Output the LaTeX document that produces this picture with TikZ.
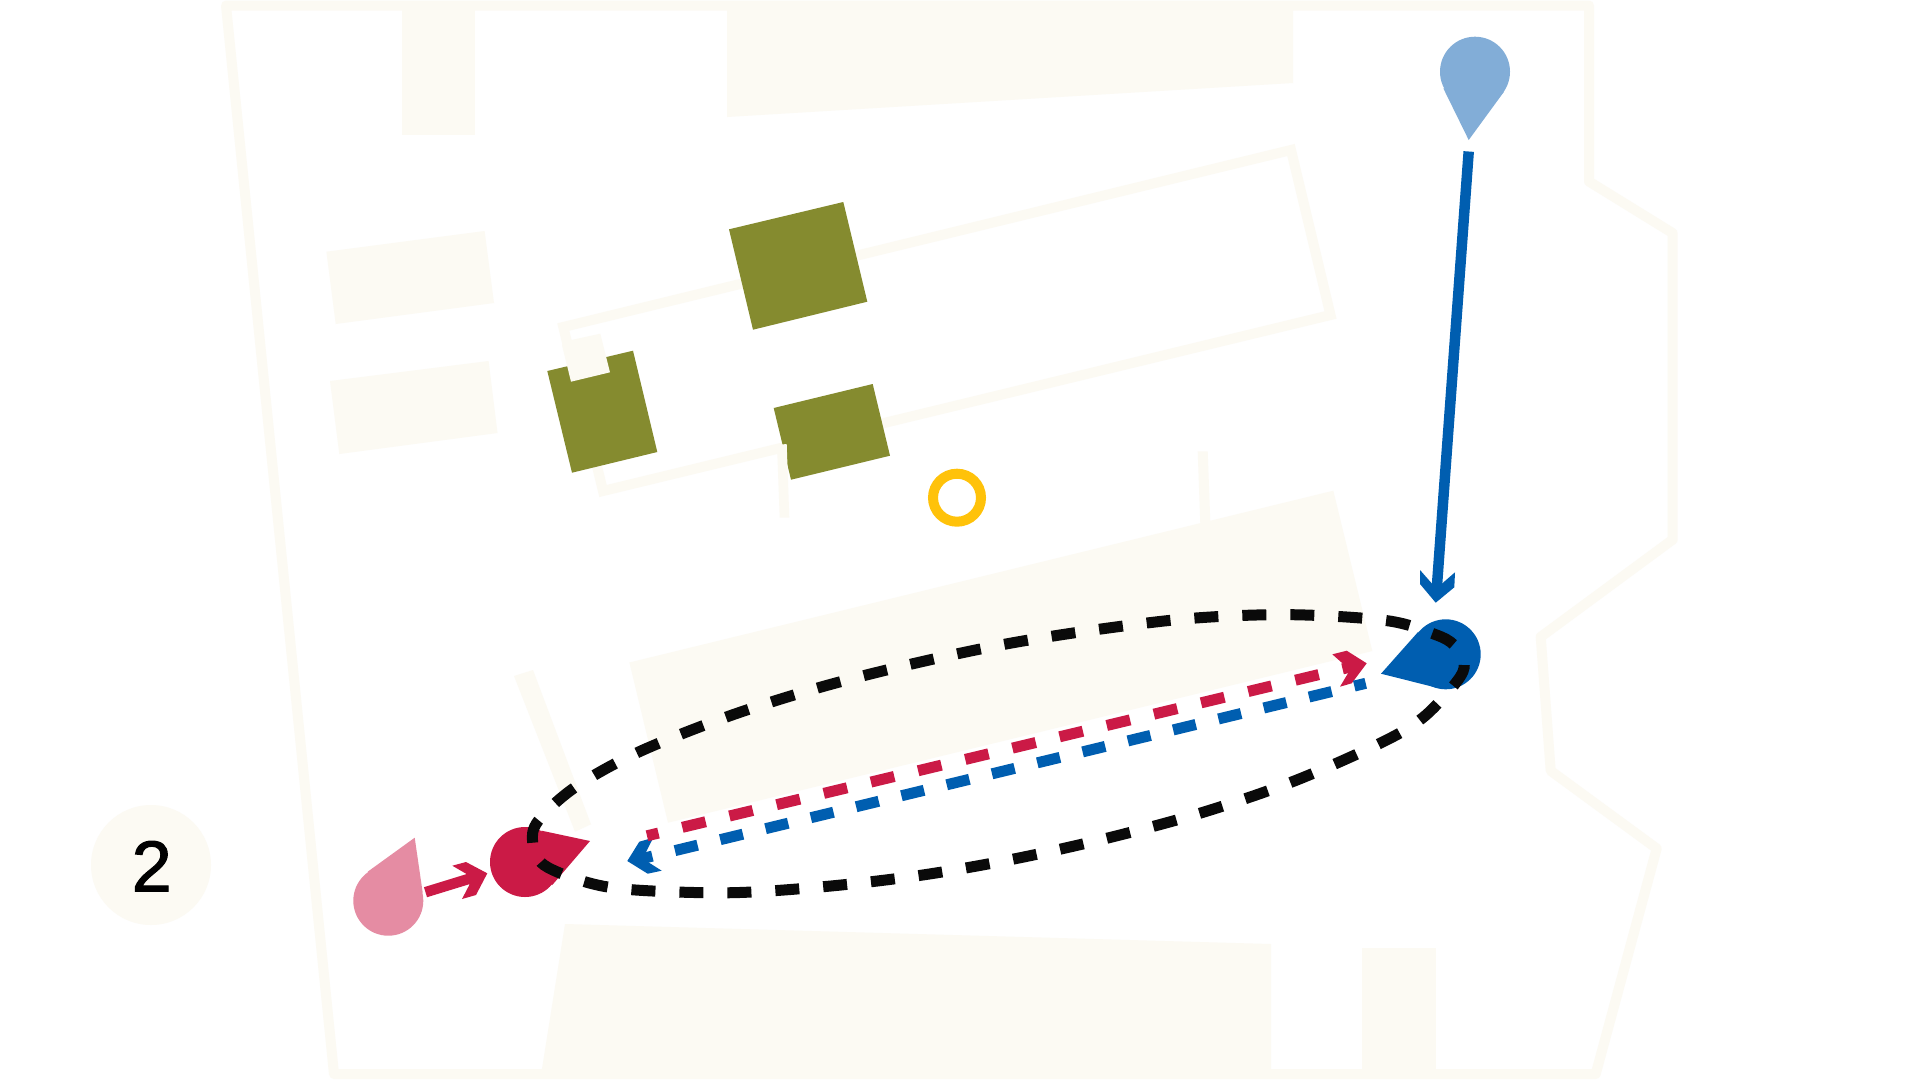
\documentclass[tikz,border=0pt]{standalone}
\usepackage{fontspec}
\setmainfont{Liberation Sans}
\newfontfamily\numfont[FakeBold=1.5]{Liberation Sans}
\definecolor{beige}{HTML}{FCFAF3}
\definecolor{olive}{HTML}{858B2F}
\definecolor{cblue}{HTML}{005EB0}
\definecolor{cred}{HTML}{CB1A46}
\definecolor{cpink}{HTML}{E58CA3}
\definecolor{cpale}{HTML}{82ADD7}
\definecolor{cyel}{HTML}{FFC20A}
\definecolor{cblk}{HTML}{0A0A0A}
\tikzset{
  wall/.style={draw=beige,line width=10pt,line join=round},
  block/.style={fill=beige,draw=none},
  green/.style={fill=olive,draw=none},
  solidpath/.style={line width=10.5pt},
  reddash/.style={cred,line width=11pt,dash pattern=on 24pt off 24.5pt},
  bluedash/.style={cblue,line width=11pt,dash pattern=on 23.3pt off 23.3pt},
  loop/.style={cblk,line width=11pt,dash pattern=on 24pt off 24pt},
  dot/.style={circle,minimum size=70pt,inner sep=0pt,draw=none}
}
\begin{document}
\begin{tikzpicture}[x=1pt,y=-1pt]
\useasboundingbox (0,0) rectangle (1920,1080);
\fill[white] (0,0) rectangle (1920,1080);
% building outline
\draw[wall] (226,5.5) -- (1589,5.5) -- (1589,181.5) -- (1672.5,233) -- (1672.7,539.6) -- (1540.7,636.9) -- (1550.7,770.8) -- (1656.7,848.5) -- (1595.7,1074) -- (334,1074) -- cycle;
\fill[block] (402,5) rectangle (475,135);
\fill[block] (727,5) -- (1293,5) -- (1293,83) -- (727,117) -- cycle;
\fill[block] (326.4,251.7) -- (484.6,231) -- (494,303) -- (335.7,324) -- cycle;
\fill[block] (330,381) -- (488.6,361) -- (497.5,433) -- (339.3,454) -- cycle;
\draw[wall,line join=miter] (563.3,327) -- (1291,150) -- (1330.5,315) -- (603,491) -- cycle;
\fill[block] (1197.7,451.3) -- (1207.7,451.3) -- (1210.3,522) -- (1200.3,524) -- cycle;
\fill[block] (629.4,662.5) -- (1333.3,490.7) -- (1372.3,651) -- (668,822.7) -- cycle;
\fill[block] (514,676) -- (533,670) -- (591,824.3) -- (575,831.7) -- cycle;
\fill[block] (565,924) -- (1271,944) -- (1271,1075) -- (541,1075) -- cycle;
\fill[block] (1362.3,948) rectangle (1436,1075);
% olive blocks
\fill[green] (547.3,371) -- (633,350.7) -- (657.3,452) -- (572,472.7) -- cycle;
\fill[green] (729,229.3) -- (843.3,202) -- (867.3,301.7) -- (753,329.7) -- cycle;
\fill[green] (773.7,408) -- (872.7,384) -- (890,455.7) -- (791,479.7) -- cycle;
\fill[block] (570,340.3) -- (600.3,333.7) -- (610,372.3) -- (571,381.7) -- (562,345) -- cycle;
\fill[block] (777,445) -- (786.7,444) -- (789.3,517.7) -- (779.7,517.7) -- cycle;
% ring
\node[circle,draw=cyel,line width=10pt,minimum size=48pt,inner sep=0pt,fill=white] (ring) at (957,497.7) {};
% badge
\node[circle,fill=beige,minimum size=120pt,inner sep=0pt] (badge) at (151,865) {};
\node[inner sep=0pt,font=\numfont\fontsize{72pt}{72pt}\selectfont] (num) at (151.7,866.2) {2};
% pale blue pin
\node[dot,fill=cpale] (pinB) at (1475,71.7) {};
\fill[cpale] (1443.3,88.3) -- (1468.7,140) -- (1504,91.7) -- cycle;
% pink pin
\node[dot,fill=cpink] (pinP) at (388.3,900.7) {};
\fill[cpink] (367.7,871.7) -- (414.7,837.7) -- (422.7,892.7) -- cycle;
% red pin
\node[dot,fill=cred] (pinR) at (525,862) {};
\fill[cred] (541.7,830.7) -- (590,841) -- (552.3,885) -- cycle;
% blue pin
\node[dot,fill=cblue] (pinS) at (1445.7,654.3) {};
\fill[cblue] (1418.3,631.7) -- (1381,673.7) -- (1436.7,687.7) -- cycle;
% named connector ends
\coordinate (bStart) at (1468.7,151.5);
\coordinate (bEnd) at (1437,585);
\coordinate (rStart) at (425.5,892.2);
\coordinate (rEnd) at (470,878.5);
\coordinate (dRs) at (647,835.8);
\coordinate (dRe) at (1355,665.9);
\coordinate (dBs) at (1365.7,683.3);
\coordinate (dBe) at (635,860.3);
% blue solid arrow
\draw[cblue,solidpath] (bStart) -- (bEnd);
\fill[cblue] (1420,570) -- (1420,584) -- (1435.7,602.7) -- (1454.3,587.3) -- (1455,572.3) -- (1442.3,583.3) -- (1432.3,584) -- cycle;
% red solid arrow
\draw[cred,solidpath] (rStart) -- (rEnd);
\fill[cred] (452.3,865.7) -- (466,862) -- (487.3,873.3) -- (476,895) -- (462,899) -- (469.3,885) -- (468.3,875) -- cycle;
% blue head, red dashes, red head, blue dashes
\fill[cblue] (627.3,861) -- (639.3,841.7) -- (653.3,837.7) -- (646,852) -- (651,860) -- (647.5,861.7) -- (661.7,870.7) -- (647.7,873.7) -- cycle;
\draw[reddash,dash phase=12.2pt] (dRs) -- (dRe);
\fill[cred] (1332.3,654.3) -- (1346.7,650.7) -- (1366.7,663.3) -- (1351.7,683.3) -- (1340,686.7) -- (1348.3,672.7) -- (1343.3,664) -- cycle;
\draw[bluedash,dash phase=11.6pt] (dBs) -- (dBe);
% black loop (a closed plot begins at its second point)
\draw[loop] plot[smooth cycle,tension=.55] coordinates {
(544,865) (532.7,842.7) (538.3,820.7) (575,787.3) (638,752.3) (727.3,716.7) (818.7,687.7) (911.7,664) (1006,644) (1101,629) (1195.7,618) (1292.3,614.7) (1387.3,620.7) (1434.7,634.3) (1454,645) (1464.3,663.3) (1456.7,681.7) (1423.3,717.3) (1382,742.3) (1294.3,781) (1204,812) (1110.7,837.3) (1017.3,858.3) (922.7,875) (827.7,886.3) (731.7,892.7) (635.7,890) (588.3,882.7)};
\end{tikzpicture}
\end{document}
